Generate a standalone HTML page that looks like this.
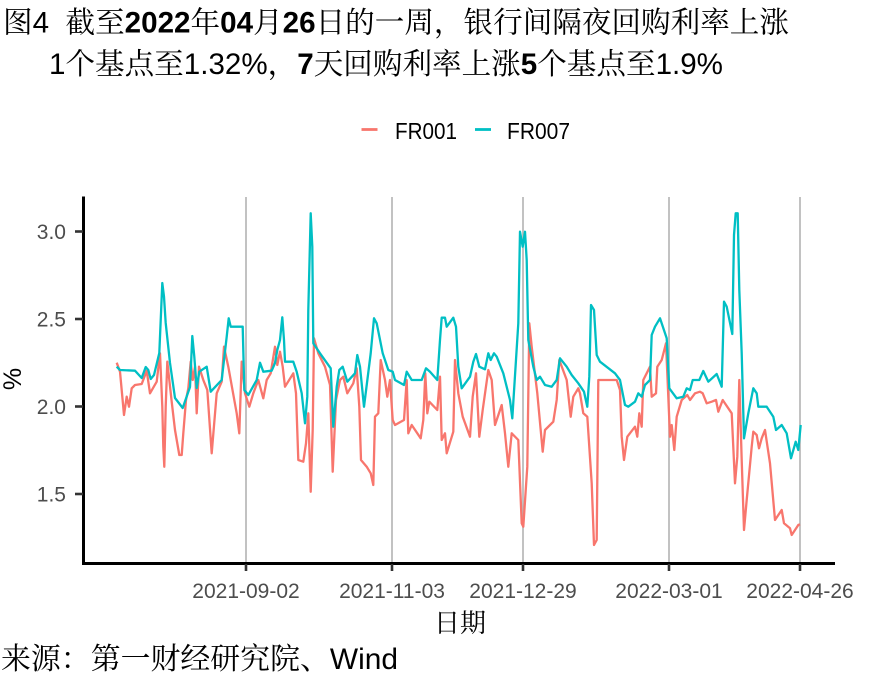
<!DOCTYPE html>
<html>
<head>
<meta charset="utf-8">
<style>
html,body{margin:0;padding:0;background:#fff;}
svg{display:block;}
</style>
</head>
<body>
<svg width="885" height="688" viewBox="0 0 885 688" xmlns="http://www.w3.org/2000/svg">
<rect x="0" y="0" width="885" height="688" fill="#ffffff"/>

<!-- Title -->
<text x="3" y="32.5" font-size="29.5" fill="#000" textLength="786" lengthAdjust="spacingAndGlyphs" font-family="'Liberation Sans','Noto Serif CJK SC',serif">图<tspan font-family="'Liberation Sans',sans-serif">4&#160;&#160;</tspan>截至<tspan font-family="'Liberation Sans',sans-serif" font-weight="bold">2022</tspan>年<tspan font-family="'Liberation Sans',sans-serif" font-weight="bold">04</tspan>月<tspan font-family="'Liberation Sans',sans-serif" font-weight="bold">26</tspan>日的一周，银行间隔夜回购利率上涨</text>
<text x="49" y="74" font-size="29.5" fill="#000" textLength="674" lengthAdjust="spacingAndGlyphs" font-family="'Liberation Sans','Noto Serif CJK SC',serif"><tspan font-family="'Liberation Sans',sans-serif">1</tspan>个基点至<tspan font-family="'Liberation Sans',sans-serif">1.32%</tspan>，<tspan font-family="'Liberation Sans',sans-serif" font-weight="bold">7</tspan>天回购利率上涨<tspan font-family="'Liberation Sans',sans-serif" font-weight="bold">5</tspan>个基点至<tspan font-family="'Liberation Sans',sans-serif">1.9%</tspan></text>

<!-- Legend -->
<line x1="361.5" y1="129.5" x2="377.5" y2="129.5" stroke="#F8766D" stroke-width="2.8"/>
<text x="395" y="139" font-size="23" fill="#000" textLength="62" lengthAdjust="spacingAndGlyphs" font-family="'Liberation Sans',sans-serif">FR001</text>
<line x1="475" y1="129.5" x2="491" y2="129.5" stroke="#00BFC4" stroke-width="2.8"/>
<text x="507" y="139" font-size="23" fill="#000" textLength="63" lengthAdjust="spacingAndGlyphs" font-family="'Liberation Sans',sans-serif">FR007</text>

<!-- Vertical grid lines -->
<g stroke="#b3b3b3" stroke-width="1.6">
<line x1="246" y1="197" x2="246" y2="563"/>
<line x1="392" y1="197" x2="392" y2="563"/>
<line x1="523" y1="197" x2="523" y2="563"/>
<line x1="669" y1="197" x2="669" y2="563"/>
<line x1="800" y1="197" x2="800" y2="563"/>
</g>

<!-- Series -->
<polyline fill="none" stroke="#F8766D" stroke-width="2.3" stroke-linejoin="round" points="116.7,362.7 120,371.7 124,415 126.7,396.7 129,406.7 131.7,388.3 135,385 141.7,384 146.7,370.7 150,393.3 156.7,381.7 160,353.3 162.3,406.7 163.3,446.7 164.3,466.7 165.7,406.7 167.3,361.7 171.7,401.7 175,430 179.3,455 181.7,455 183.3,433.3 186,400 188.3,388.3 190.7,361.7 192.7,380 195,366.7 196.7,413.3 199,366.7 203.3,380 207.3,390 211.7,453.3 216.7,393.3 221.7,381.7 224,346.7 228.3,366.7 236.7,413.3 239.3,433.3 241.7,361.7 245,393.3 249.3,406.7 253.3,393.3 258.3,380 263.3,398.3 266.7,380 270.7,373.3 275,346.7 277.3,365 280,351.7 282.7,366.7 285,386.7 293.3,373.3 296,393.3 298.3,460 303.3,461.7 306,443.3 308.3,413.3 310.7,491.7 312.7,430 314,338.3 318.3,353.3 325,366.7 330,385 332.7,471.7 336,400 340,380 343.3,376.7 347.3,393.3 353.3,383.3 356.7,368.3 359.3,406.7 361,460 366.7,466.7 370.7,473.3 373.3,485 375,416.7 378.3,413.3 380.7,360 385,380 387.3,396.7 390,380 392.7,420 395,425 404,420 406.7,380 408.3,433.3 411.7,425 420.7,438.3 423.3,420 425.3,373.3 427.3,413.3 429.3,401.7 437.3,410 440,376.7 441.7,440 445,433.3 446.7,453.3 453.3,431.7 455,360 458.3,393.3 462.7,416.7 470,436.7 472.7,396.7 476,373.3 479.3,436.7 482.7,410 488.3,370 491.7,380 495,425 501.7,405 505,433.3 508.3,466.7 511.7,433.3 518.3,440 521.7,523.3 523.3,526.7 527.3,466.7 529.3,323.3 531.7,346.7 537.3,393.3 542.7,451.7 545,430 553.3,421.7 556.7,400 559.3,360 566.7,380 570.7,416.7 573.3,396.7 578.3,388.3 580,393.3 583.3,413.3 587.3,416.7 591.7,483.3 594,545 596.7,540 598.3,380 616.7,380 620,390 621.7,436.7 624,460 627.3,436.7 635,426.7 637.3,436.7 639.3,413.3 641.7,426.7 643.3,380 650,366.7 651.7,396.7 656,393.3 657.3,366.7 661.7,360 666,343.3 668.3,396.7 670,436.7 671.7,425 674.3,450 676.7,416.7 681.7,400 687.3,395 690,400 695,393.3 700,391.7 702.7,393.3 706.7,403.3 711.7,401.7 716,400 718.3,411.7 722.7,400 731.7,413.3 735,483.3 737.3,456.7 739.3,380 741.7,460 744,530 746.7,500 751.7,446.7 753.3,431.7 756.7,435 759,448.3 761.7,438.3 765,430 770,463.3 775,520 781.7,510 784,523.3 790,528.3 791.7,535 798.3,525 800,524.3"/>
<polyline fill="none" stroke="#00BFC4" stroke-width="2.3" stroke-linejoin="round" points="116.7,366.7 120,370 135,370.7 141.7,378 145.7,367 148.3,370 150.7,379 154,375 159.3,353 162.3,283 164,296.7 165.7,323 170,363 175,398 182.7,408 190,387 192.3,336 194.3,356.7 196.7,388 199.3,371.7 206.7,366.7 210.7,391.7 221.7,380 226.7,336.7 228.7,318.3 230.7,326.7 242.7,326.7 244.3,390 248.3,395 256.7,380 260,362.7 263.3,371.7 271.7,370.7 275,363 277.3,350 280,340 282.3,317.3 284,340 285,361.7 293.3,361.7 296.7,371.7 301.7,393.3 305,423.3 307.3,396.7 308.3,310 310.7,213.3 312.3,246.7 313.3,343.3 320,353.3 330.7,368.3 333.3,426.7 336.7,386.7 339.3,370 342.7,366.7 347.3,381.7 355,373.3 357.3,355 360,366.7 364,406.7 370.7,353.3 374,318.3 376.7,323.3 382.7,353.3 388.3,370 392.7,371.7 395,380 404,385 406.7,371.7 411.7,380 421.7,380 426,368.3 430,371.7 437.3,380 440,340 441.7,317.7 445,317.7 446.7,326.7 453.3,317.7 456,326.7 458.3,366.7 461.7,388.3 470,376.7 473.3,361.7 476,354 479.3,366.7 485,369.3 488.3,353.3 490.7,360 494,353.3 496.7,356.7 503.3,373.3 510,400 512.3,418.3 518.3,323.3 520,231.7 522.7,246.7 525,231.7 526.7,260 528.3,340 533.3,366.7 536.7,380 540,376.7 545,385 551.7,386.7 556.7,380 560,358.3 566.7,366.7 571.7,375 578.3,383.3 584,391.7 587.3,406.7 589.3,376.7 591,305 594,310 596.7,355 600,361.7 615,373.3 620,380 625,405 628.3,406.7 635,401.7 638.3,393.3 641.7,396.7 645,385 650,380 651.7,335 655,326.7 660,318.3 666.7,338.3 669.3,388.3 676.7,398.3 683.3,396.7 686.7,388.3 690,390 692.7,380 699.3,380 703.3,371 708.3,381.7 716.7,374 721.7,386.7 724,301.7 726.7,306.7 732.3,334 734,235 735.7,213.3 737.7,213.3 739.3,290 741.7,353.3 744,438.3 748.3,413.3 753.3,388.3 756.7,393.3 758.3,406.7 766.7,406.7 773.3,416.7 776,430 781.7,425 786.7,433.3 791,458.3 795.7,441.7 798.3,450 800.7,425"/>

<!-- Axes -->
<line x1="83.5" y1="196.5" x2="83.5" y2="565" stroke="#000" stroke-width="3"/>
<line x1="82" y1="563.5" x2="835" y2="563.5" stroke="#000" stroke-width="3"/>

<!-- Ticks -->
<g stroke="#333333" stroke-width="2.6">
<line x1="75" y1="231.5" x2="83" y2="231.5"/>
<line x1="75" y1="319" x2="83" y2="319"/>
<line x1="75" y1="406.5" x2="83" y2="406.5"/>
<line x1="75" y1="494" x2="83" y2="494"/>
<line x1="246" y1="564" x2="246" y2="571"/>
<line x1="392" y1="564" x2="392" y2="571"/>
<line x1="523" y1="564" x2="523" y2="571"/>
<line x1="669" y1="564" x2="669" y2="571"/>
<line x1="800" y1="564" x2="800" y2="571"/>
</g>

<!-- Tick labels -->
<g font-family="'Liberation Sans',sans-serif" font-size="21" fill="#4D4D4D">
<text x="66" y="239" text-anchor="end">3.0</text>
<text x="66" y="326.5" text-anchor="end">2.5</text>
<text x="66" y="414" text-anchor="end">2.0</text>
<text x="66" y="501.5" text-anchor="end">1.5</text>
<text x="246" y="598" text-anchor="middle">2021-09-02</text>
<text x="392" y="598" text-anchor="middle">2021-11-03</text>
<text x="523" y="598" text-anchor="middle">2021-12-29</text>
<text x="669" y="598" text-anchor="middle">2022-03-01</text>
<text x="800" y="598" text-anchor="middle">2022-04-26</text>
</g>

<!-- Axis titles -->
<text x="0" y="0" font-size="25" fill="#000" text-anchor="middle" font-family="'Liberation Sans',sans-serif" transform="translate(21,379) rotate(-90)">%</text>
<text x="460" y="632" font-size="26" fill="#000" text-anchor="middle" font-family="'Liberation Sans','Noto Serif CJK SC',serif">日期</text>

<!-- Caption -->
<text x="1" y="669" font-size="30" fill="#000" textLength="397" lengthAdjust="spacingAndGlyphs" font-family="'Liberation Sans','Noto Serif CJK SC',serif">来源：第一财经研究院、<tspan font-family="'Liberation Sans',sans-serif">Wind</tspan></text>
</svg>
</body>
</html>
